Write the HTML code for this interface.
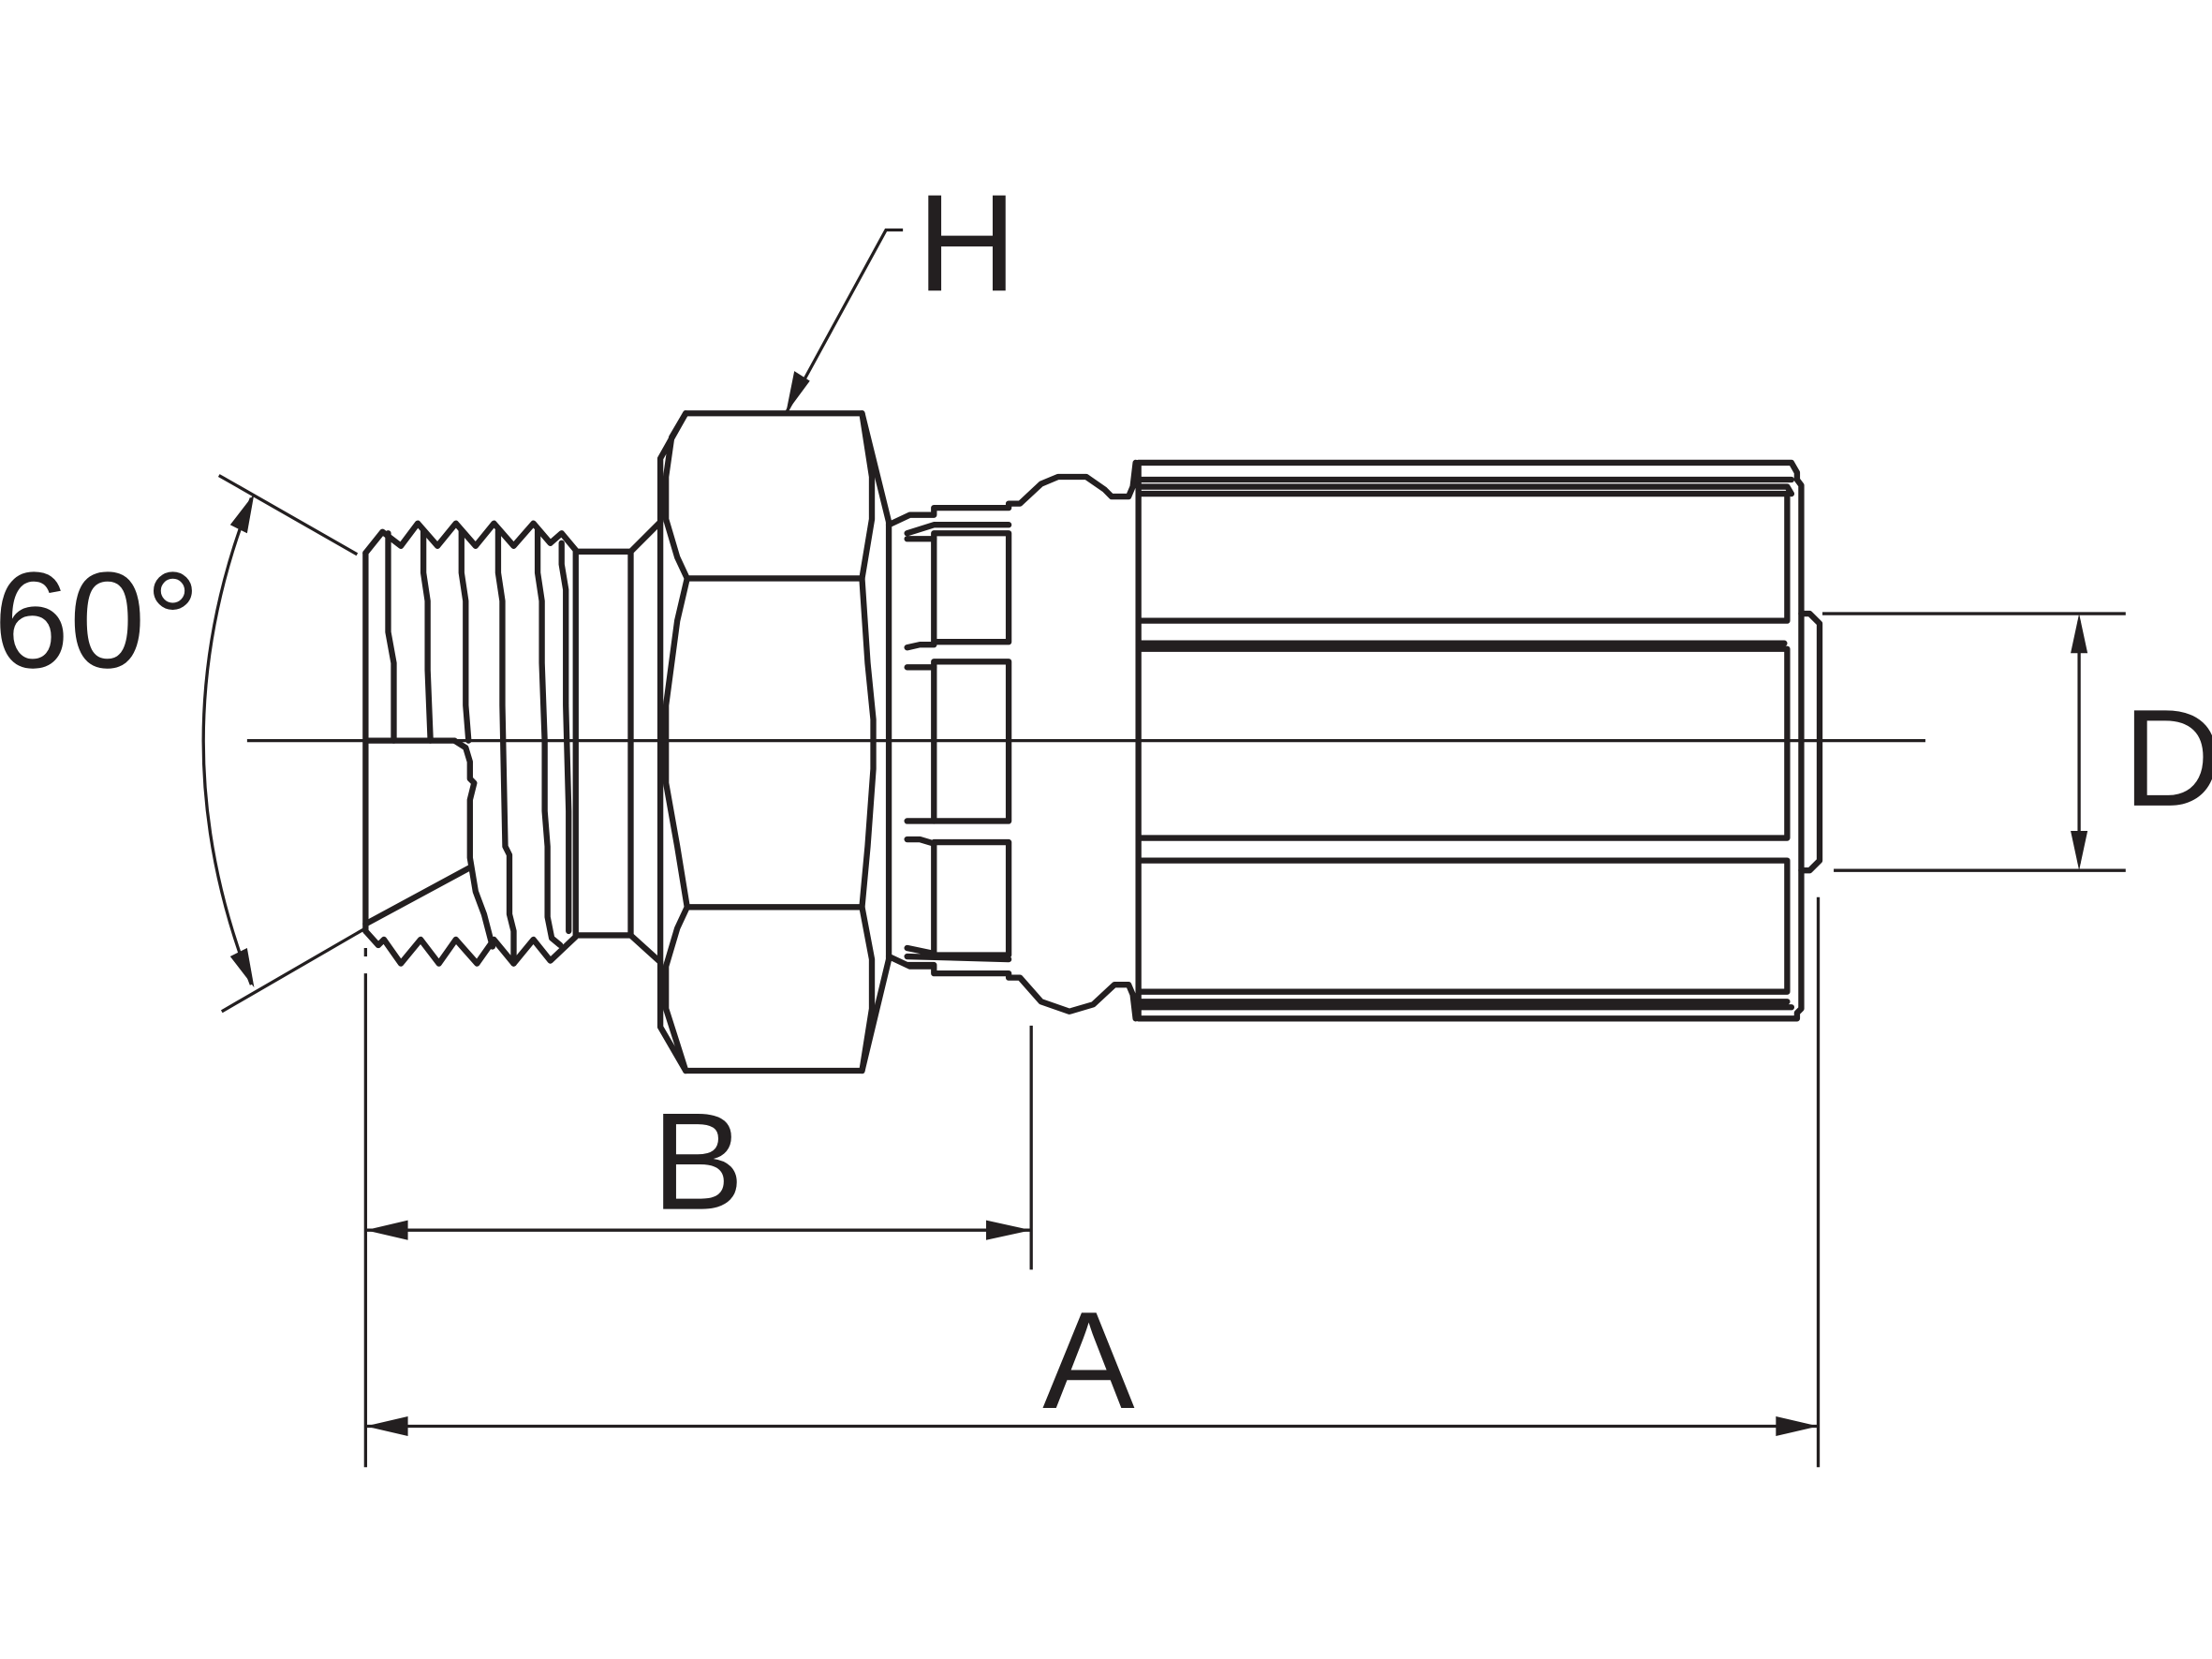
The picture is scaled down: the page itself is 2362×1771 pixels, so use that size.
<!DOCTYPE html>
<html><head><meta charset="utf-8"><style>
html,body{margin:0;padding:0;background:#fff;}
svg{display:block;}
text{font-family:"Liberation Sans",Arial,sans-serif;fill:#231f20;}
</style></head><body>
<svg width="2362" height="1771" viewBox="0 0 1568 1176" xmlns="http://www.w3.org/2000/svg">
<g fill="none" stroke="#231f20" stroke-width="4.2" stroke-linejoin="round" stroke-linecap="round">
<path d="M259,392 L271,377 L284,387 L296,371 L310,387 L323,371 L337,387 L350,371 L364,387 L378,371 L390,385 L398,378 L408,390"/>
<path d="M259,660 L268,670 L272,666 L284,683 L298,666 L311,683 L323,666 L338,683 L350,666 L364,683 L378,666 L390,681 L408,664"/>
<line x1="259" y1="392" x2="259" y2="660"/>
<path d="M275,378 L275,448 L279,470 L279,525"/>
<path d="M300,376 L300,406 L303,426 L303,475 L305,525"/>
<path d="M327,376 L327,406 L330,426 L330,500 L332,525 M322,525 L330,530 L333,540 L333,552 L336,555 L333,567 L333,608 L337,632 L343,648 L349,671"/>
<path d="M353,376 L353,406 L356,426 L356,500 L358,600 L361,606 L361,648 L364,660 L364,683"/>
<path d="M381,376 L381,406 L384,426 L384,470 L386,525 L386,575 L388,600 L388,650 L391,665 L397,670"/>
<path d="M398,385 L398,400 L401,418 L401,500 L403,575 L403,660"/>
<line x1="259" y1="525" x2="322" y2="525"/>
<line x1="259" y1="655" x2="333" y2="615"/>
<rect x="408" y="391" width="39" height="272"/>
<path d="M447,391 L468,370 M447,663 L468,682"/>
<path d="M468,325 L486,293 L611,293 L630,370 M468,325 L468,728 L486,759 L611,759 L630,680"/>
<path d="M486,293 L476,310 L472,338 L472,368 L480,395 L487,410 L611,410 L618,368 L618,338 L611,293"/>
<path d="M487,410 L480,440 L472,500 L472,555 L480,600 L487,643 L611,643 L615,600 L619,545 L619,510 L615,470 L611,410"/>
<path d="M487,643 L480,658 L472,685 L472,715 L480,740 L486,759 M611,643 L618,680 L618,715 L611,759"/>
<line x1="630" y1="370" x2="630" y2="680"/>
<path d="M630,372 L645,365 L662,365 L662,360 L715,360 L715,357 L723,357 L738,343 L750,338 L770,338 L783,347 L788,352 L800,352 L803,345 L805,328"/>
<path d="M630,678 L645,685 L662,685 L662,690 L715,690 L715,693 L723,693 L738,710 L758,717 L775,712 L790,698 L800,698 L803,705 L805,722"/>
<rect x="662" y="378" width="53" height="77"/>
<rect x="662" y="469" width="53" height="113"/>
<rect x="662" y="597" width="53" height="80"/>
<path d="M643,378 L662,372 L715,372 M643,382 L662,382 M643,459 L652,457 L662,457 M643,473 L662,473 M643,582 L662,582 M643,595 L652,595 L662,598 M643,672 L662,676 M643,678 L715,680 M643,684 L662,684"/>
<path d="M807,328 L1270,328 L1274,335 L1274,340 L1277,344 L1277,715 L1274,718 L1274,722 L807,722 Z"/>
<path d="M807,340 L1270,340 M807,345 L1267,345 L1270,350 M807,350 L1267,350 L1267,440 L807,440 M807,456 L1265,456 M807,460 L1267,460 L1267,594 L807,594 M807,610 L1267,610 L1267,703 L807,703 M807,710 L1267,710 M807,714 L1270,714"/>
<path d="M1277,435 L1283,435 L1290,442 L1290,610 L1283,617 L1277,617"/>
</g>
<g stroke="#231f20" stroke-width="2.2" fill="none">
<line x1="175" y1="525" x2="1365" y2="525"/>
<line x1="1292" y1="435" x2="1507" y2="435"/>
<line x1="1300" y1="617" x2="1507" y2="617"/>
<line x1="1474" y1="440" x2="1474" y2="612"/>
<line x1="259" y1="672" x2="259" y2="678"/>
<line x1="259" y1="690" x2="259" y2="1040"/>
<line x1="1289" y1="636" x2="1289" y2="1040"/>
<line x1="259" y1="1011" x2="1289" y2="1011"/>
<line x1="731" y1="727" x2="731" y2="900"/>
<line x1="259" y1="872" x2="731" y2="872"/>
<path d="M557,293 L628,163 L640,163"/>
<line x1="155" y1="337" x2="253" y2="393"/>
<line x1="157" y1="717" x2="259" y2="658"/>
<path d="M178,353 Q110,525 178,698"/>
</g>
<g fill="#231f20">
<path d="M1474,435 L1468,463 L1480,463 Z"/>
<path d="M1474,617 L1468,589 L1480,589 Z"/>
<path d="M259,1011 L289,1004 L289,1018 Z"/>
<path d="M1289,1011 L1259,1004 L1259,1018 Z"/>
<path d="M259,872 L289,865 L289,879 Z"/>
<path d="M731,872 L699,865 L699,879 Z"/>
<path d="M557,293 L563,263 L574,270 Z"/>
<path d="M180,350 L163,372 L175,378 Z"/>
<path d="M180,700 L163,678 L175,672 Z"/>
</g>
<text x="650" y="206" font-size="98">H</text>
<text x="1505" y="571" font-size="98">D</text>
<text x="462" y="857" font-size="98">B</text>
<text x="739" y="998" font-size="98">A</text>
<text x="-5" y="473" font-size="97">60°</text>
</svg>
</body></html>
